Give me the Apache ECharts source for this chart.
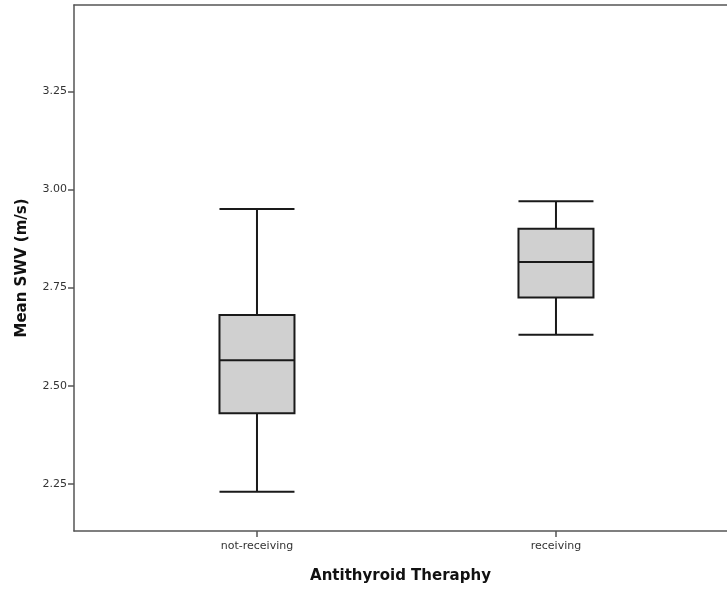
<!DOCTYPE html>
<html>
<head>
<meta charset="utf-8">
<script src="https://cdn.jsdelivr.net/npm/echarts@6/dist/echarts.min.js"></script>
<style>html,body{margin:0;padding:0;background:#fff;}#c{width:727px;height:589px;}</style>
</head>
<body>
<div id="c"></div>
<script>
var categories = ['not-receiving', 'receiving'];
var categoryPositions = [1, 2];
// [min, Q1, median, Q3, max]
var notReceiving = [2.23, 2.43, 2.565, 2.68, 2.95];
var receiving = [2.63, 2.725, 2.815, 2.90, 2.97];
var yTicks = [2.25, 2.50, 2.75, 3.00, 3.25];

var boxData = [
  [categoryPositions[0]].concat(notReceiving),
  [categoryPositions[1]].concat(receiving)
];

var labelFont = 'DejaVu Sans, Verdana, sans-serif';
var chart = echarts.init(document.getElementById('c'));
chart.setOption({
  animation: false,
  backgroundColor: '#ffffff',
  grid: { left: 74, top: 5, right: 0, bottom: 57 },
  xAxis: [{
    type: 'value',
    min: 0.388, max: 2.572,
    name: 'Antithyroid Theraphy',
    nameLocation: 'middle',
    nameGap: 38,
    nameTextStyle: { fontFamily: labelFont, fontWeight: 'bold', fontSize: 15, color: '#111' },
    axisLine: { show: true, lineStyle: { color: '#555', width: 1.5 } },
    axisTick: { show: true, length: 6, customValues: categoryPositions, lineStyle: { color: '#555', width: 1.5 } },
    axisLabel: {
      customValues: categoryPositions, margin: 10,
      fontFamily: labelFont, fontSize: 11, color: '#333',
      formatter: function (v) { var i = categoryPositions.indexOf(v); return i >= 0 ? categories[i] : ''; }
    },
    splitLine: { show: false }
  }, {
    type: 'value',
    position: 'top',
    min: 0.388, max: 2.572,
    axisLine: { show: true, onZero: false, lineStyle: { color: '#555', width: 1.5 } },
    axisTick: { show: false },
    axisLabel: { show: false },
    splitLine: { show: false }
  }],
  yAxis: {
    type: 'value',
    min: 2.13, max: 3.47,
    name: 'Mean SWV (m/s)',
    nameLocation: 'middle',
    nameGap: 44,
    nameTextStyle: { fontFamily: labelFont, fontWeight: 'bold', fontSize: 15, color: '#111' },
    axisLine: { show: true, lineStyle: { color: '#555', width: 1.5 } },
    axisTick: { show: true, length: 6, customValues: yTicks, lineStyle: { color: '#555', width: 1.5 } },
    axisLabel: {
      customValues: yTicks, margin: 7,
      fontFamily: labelFont, fontSize: 11, color: '#333',
      formatter: function (v) { return v.toFixed(2); }
    },
    splitLine: { show: false }
  },
  series: [{
    type: 'boxplot',
    xAxisIndex: 0,
    data: boxData,
    boxWidth: [75, 75],
    itemStyle: { color: '#d0d0d0', borderColor: '#1a1a1a', borderWidth: 2 },
    emphasis: { disabled: true }
  }]
});
</script>
</body>
</html>
